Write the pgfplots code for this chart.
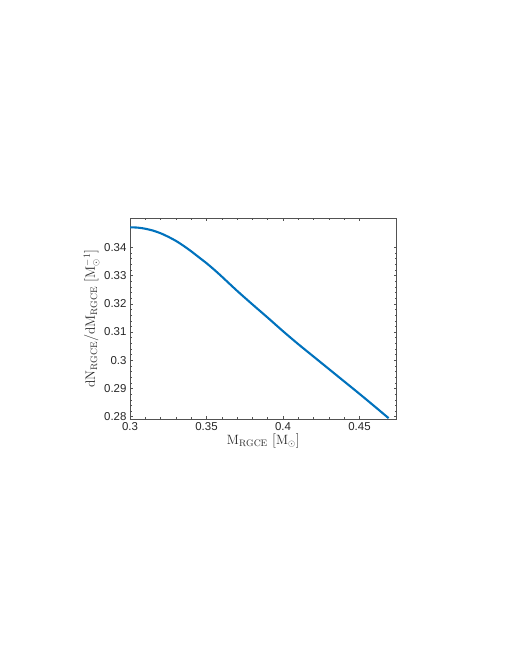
\documentclass[border=0pt]{standalone}
\usepackage{fontspec}
\usepackage{pgfplots}
\pgfplotsset{compat=1.18}
\newfontfamily\helv{Liberation Sans}
\definecolor{mlblue}{rgb}{0,0.447,0.741}
\definecolor{mlaxis}{rgb}{0.15,0.15,0.15}
\begin{document}
\begin{tikzpicture}
\useasboundingbox (0,0) rectangle (510bp,660bp);
\begin{axis}[
  at={(130bp,241bp)}, anchor=south west,
  scale only axis, width=266.7bp, height=200.7bp,
  xmin=0.3, xmax=0.4743, ymin=0.2792, ymax=0.3503,
  xtick={0.3,0.35,0.4,0.45}, ytick={0.28,0.29,0.3,0.31,0.32,0.33,0.34},
  minor x tick num=4, minor y tick num=4,
  scaled ticks=false,
  axis line style={mlaxis!80, line width=0.5bp},
  tick style={mlaxis!80, line width=0.5bp},
  major tick length=2.7bp, minor tick length=2bp,
  /pgf/number format/assume math mode=true,
  tick label style={font=\helv\fontsize{11.5}{13}\selectfont, text=mlaxis},
  label style={font=\fontsize{13.5}{16}\selectfont, text=mlaxis},
  xlabel={$\mathrm{M_{RGCE}\ [M_\odot]}$},
  ylabel={$\mathrm{dN_{RGCE}/dM_{RGCE}\ [M_\odot^{-1}]}$},
  xlabel style={yshift=4bp},
  ylabel style={yshift=-2bp},
]
\addplot[mlblue, line width=2.1bp, smooth] table {
x y
0.300 0.3471
0.305 0.3470
0.310 0.3466
0.315 0.34595
0.320 0.3450
0.325 0.34375
0.330 0.3423
0.335 0.34055
0.340 0.3386
0.345 0.3365
0.350 0.3344
0.355 0.3321
0.360 0.32965
0.370 0.3246
0.380 0.3198
0.390 0.3151
0.400 0.3103
0.410 0.3057
0.420 0.3013
0.430 0.2969
0.440 0.2925
0.450 0.2881
0.460 0.2836
0.469 0.2795
};
\end{axis}
\end{tikzpicture}
\end{document}
